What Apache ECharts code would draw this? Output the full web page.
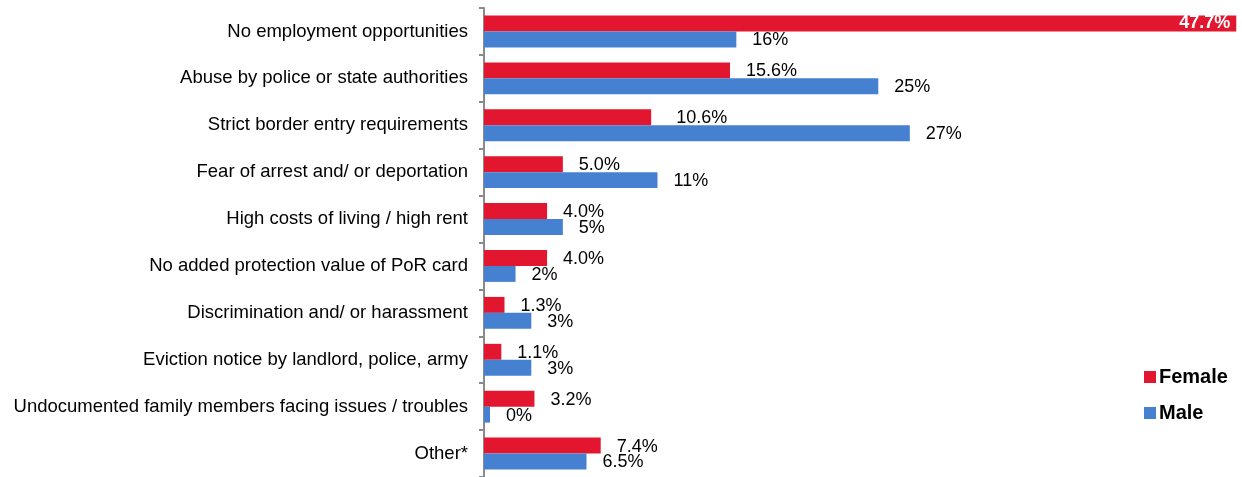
<!DOCTYPE html>
<html>
<head>
<meta charset="utf-8">
<script src="https://cdn.jsdelivr.net/npm/echarts@6/dist/echarts.min.js"></script>
<style>
  html, body { margin: 0; padding: 0; background: #fff; }
  #chart { width: 1242px; height: 477px; }
</style>
</head>
<body>
<div id="chart"></div>
<script>
// Reasons given, by gender (percent of respondents)
const categories = [
  'No employment opportunities',
  'Abuse by police or state authorities',
  'Strict border entry requirements',
  'Fear of arrest and/ or deportation',
  'High costs of living / high rent',
  'No added protection value of PoR card',
  'Discrimination and/ or harassment',
  'Eviction notice by landlord, police, army',
  'Undocumented family members facing issues / troubles',
  'Other*'
];
const femaleValues = [47.7, 15.6, 10.6, 5.0, 4.0, 4.0, 1.3, 1.1, 3.2, 7.4];
const maleValues = [16, 25, 27, 11, 5, 2, 3, 3, 0, 6.5];
const femaleLabels = ['47.7%', '15.6%', '10.6%', '5.0%', '4.0%', '4.0%', '1.3%', '1.1%', '3.2%', '7.4%'];
const maleLabels = ['16%', '25%', '27%', '11%', '5%', '2%', '3%', '3%', '0%', '6.5%'];

const FONT = '"Liberation Sans", Arial, sans-serif';
const RED = '#E2162F';
const BLUE = '#4681D1';

const baseLabel = {
  show: true,
  position: 'right',
  distance: 16,
  offset: [0, 1],
  color: '#000',
  fontFamily: FONT,
  fontSize: 18
};

const femaleData = femaleValues.map((v, i) => {
  const item = { value: v };
  if (i === 0) {
    item.label = { position: 'insideRight', distance: 6, color: '#fff', fontWeight: 'bold', offset: [0, 0] };
  } else if (i === 2) {
    item.label = { distance: 25 };
  }
  return item;
});

const chart = echarts.init(document.getElementById('chart'), null, { renderer: 'canvas' });
chart.setOption({
  animation: false,
  backgroundColor: '#fff',
  grid: { left: 484, right: 1, top: 8, bottom: 0, containLabel: false },
  legend: {
    orient: 'vertical',
    left: 1139,
    top: 362,
    icon: 'rect',
    itemWidth: 12,
    itemHeight: 12,
    itemGap: 16,
    data: ['Female', 'Male'],
    textStyle: { fontFamily: FONT, fontSize: 20, fontWeight: 'bold', color: '#000', padding: [0, 0, 0, -2] }
  },
  xAxis: {
    type: 'value',
    min: 0,
    max: 48,
    show: false
  },
  yAxis: {
    type: 'category',
    data: categories,
    inverse: true,
    axisLine: { show: true, lineStyle: { color: '#8a8a8a', width: 2 } },
    axisTick: { show: true, length: 5, lineStyle: { color: '#8a8a8a', width: 2 } },
    axisLabel: { color: '#000', fontFamily: FONT, fontSize: 18.5, margin: 16 }
  },
  series: [
    {
      name: 'Female',
      type: 'bar',
      data: femaleData,
      barGap: '0%',
      barCategoryGap: '32%',
      itemStyle: { color: RED },
      label: Object.assign({}, baseLabel, { formatter: p => femaleLabels[p.dataIndex] })
    },
    {
      name: 'Male',
      type: 'bar',
      data: maleValues,
      barGap: '0%',
      barCategoryGap: '32%',
      barMinHeight: 6,
      itemStyle: { color: BLUE },
      label: Object.assign({}, baseLabel, { formatter: p => maleLabels[p.dataIndex] })
    }
  ]
});
</script>
</body>
</html>
